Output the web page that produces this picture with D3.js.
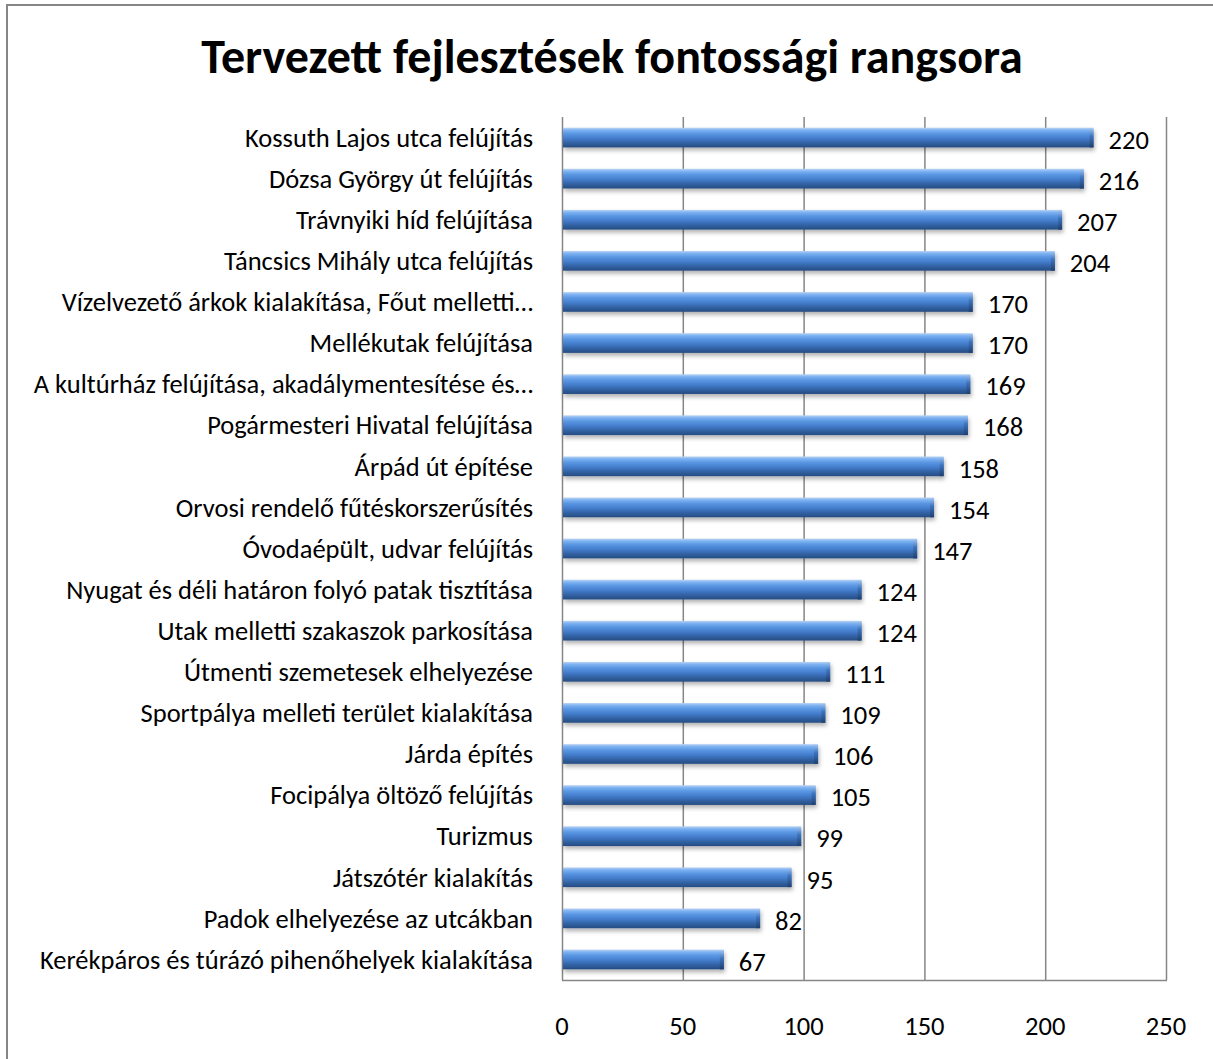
<!DOCTYPE html>
<html>
<head>
<meta charset="utf-8">
<script src="https://cdn.jsdelivr.net/npm/d3@7"></script>
<style>
  body { margin: 0; background: #fff; }
  text { font-family: Carlito, Calibri, Lato, sans-serif; fill: #000; }
</style>
</head>
<body>
<div id="chart"></div>
<script>
const categories = [
  "Kossuth Lajos utca felújítás",
  "Dózsa György út felújítás",
  "Trávnyiki híd felújítása",
  "Táncsics Mihály utca felújítás",
  "Vízelvezető árkok kialakítása, Főut melletti…",
  "Mellékutak felújítása",
  "A kultúrház felújítása, akadálymentesítése és…",
  "Pogármesteri Hivatal felújítása",
  "Árpád út építése",
  "Orvosi rendelő fűtéskorszerűsítés",
  "Óvodaépült, udvar felújítás",
  "Nyugat és déli határon folyó patak tisztítása",
  "Utak melletti szakaszok parkosítása",
  "Útmenti szemetesek elhelyezése",
  "Sportpálya melleti terület kialakítása",
  "Járda építés",
  "Focipálya öltöző felújítás",
  "Turizmus",
  "Játszótér kialakítás",
  "Padok elhelyezése az utcákban",
  "Kerékpáros és túrázó pihenőhelyek kialakítása"
]
const values = [220, 216, 207, 204, 170, 170, 169, 168, 158, 154, 147, 124, 124, 111, 109, 106, 105, 99, 95, 82, 67]
const xTicks = [0, 50, 100, 150, 200, 250]
const title = "Tervezett fejlesztések fontossági rangsora"

const data = categories.map((c, i) => ({ name: c, value: values[i] }))

const width = 1213
const height = 1059
const plot = { left: 562, right: 1166, top: 117, bottom: 980 }
const fontSize = 26.5

const svg = d3.select("#chart").append("svg")
  .attr("width", width)
  .attr("height", height)

const defs = svg.append("defs")
const grad = defs.append("linearGradient")
  .attr("id", "barGrad")
  .attr("x1", 0).attr("y1", 0).attr("x2", 0).attr("y2", 1)
const stops = [
  [0, "#bcd4f3"], [0.12, "#7fb3f2"], [0.3, "#5a97e3"],
  [0.55, "#437ccb"], [0.8, "#305f9f"], [1, "#264c82"]
]
stops.forEach(s => grad.append("stop").attr("offset", s[0]).attr("stop-color", s[1]))

const capGrad = defs.append("linearGradient")
  .attr("id", "capGrad")
  .attr("x1", 0).attr("y1", 0).attr("x2", 0).attr("y2", 1)
capGrad.append("stop").attr("offset", 0).attr("stop-color", "#9cc0ee")
capGrad.append("stop").attr("offset", 0.4).attr("stop-color", "#3e74bd")
capGrad.append("stop").attr("offset", 1).attr("stop-color", "#1f3f6e")

const shadow = defs.append("filter")
  .attr("id", "shadow")
  .attr("x", "-5%").attr("y", "-50%").attr("width", "110%").attr("height", "220%")
shadow.append("feDropShadow")
  .attr("dx", 1).attr("dy", 3)
  .attr("stdDeviation", 2)
  .attr("flood-color", "#000")
  .attr("flood-opacity", 0.3)

// chart frame
svg.append("rect")
  .attr("x", 7).attr("y", 5)
  .attr("width", width + 20).attr("height", height + 20)
  .attr("fill", "none")
  .attr("stroke", "#868686")
  .attr("stroke-width", 2)

svg.append("text")
  .attr("x", 612)
  .attr("y", 73)
  .attr("text-anchor", "middle")
  .attr("font-size", 48)
  .attr("font-weight", "bold")
  .text(title)

const x = d3.scaleLinear()
  .domain([0, 250])
  .range([plot.left, plot.right])

const y = d3.scaleBand()
  .domain(categories)
  .range([plot.top, plot.bottom])
  .paddingInner(0.52)
  .paddingOuter(0.26)

// gridlines
svg.append("g")
  .selectAll("line")
  .data(xTicks)
  .join("line")
  .attr("x1", d => x(d) + 0.5)
  .attr("x2", d => x(d) + 0.5)
  .attr("y1", plot.top)
  .attr("y2", plot.bottom)
  .attr("stroke", "#868686")
  .attr("stroke-width", 1.5)

svg.append("line")
  .attr("x1", plot.left)
  .attr("x2", plot.right + 1)
  .attr("y1", plot.bottom + 0.5)
  .attr("y2", plot.bottom + 0.5)
  .attr("stroke", "#868686")
  .attr("stroke-width", 1.5)

// x tick labels
svg.append("g")
  .selectAll("text")
  .data(xTicks)
  .join("text")
  .attr("x", d => x(d))
  .attr("y", 1026)
  .attr("dy", "0.35em")
  .attr("text-anchor", "middle")
  .attr("font-size", fontSize)
  .text(d => d)

// category labels
svg.append("g")
  .selectAll("text")
  .data(data)
  .join("text")
  .attr("x", 533)
  .attr("y", d => y(d.name) + y.bandwidth() / 2)
  .attr("dy", "0.35em")
  .attr("text-anchor", "end")
  .attr("font-size", fontSize)
  .text(d => d.name)

// bars
const bars = svg.append("g")
  .selectAll("g")
  .data(data)
  .join("g")
  .attr("filter", "url(#shadow)")

bars.append("rect")
  .attr("x", x(0) + 1)
  .attr("y", d => y(d.name))
  .attr("width", d => x(d.value) - x(0) - 1)
  .attr("height", y.bandwidth())
  .attr("fill", "url(#barGrad)")

bars.append("rect")
  .attr("x", d => x(d.value) - 4)
  .attr("y", d => y(d.name) + 1)
  .attr("width", 4)
  .attr("height", y.bandwidth() - 1)
  .attr("fill", "url(#capGrad)")

// value labels
svg.append("g")
  .selectAll("text")
  .data(data)
  .join("text")
  .attr("x", d => x(d.value) + 15)
  .attr("y", d => y(d.name) + y.bandwidth() / 2 + 2)
  .attr("dy", "0.35em")
  .attr("font-size", fontSize)
  .text(d => d.value)
</script>
</body>
</html>
